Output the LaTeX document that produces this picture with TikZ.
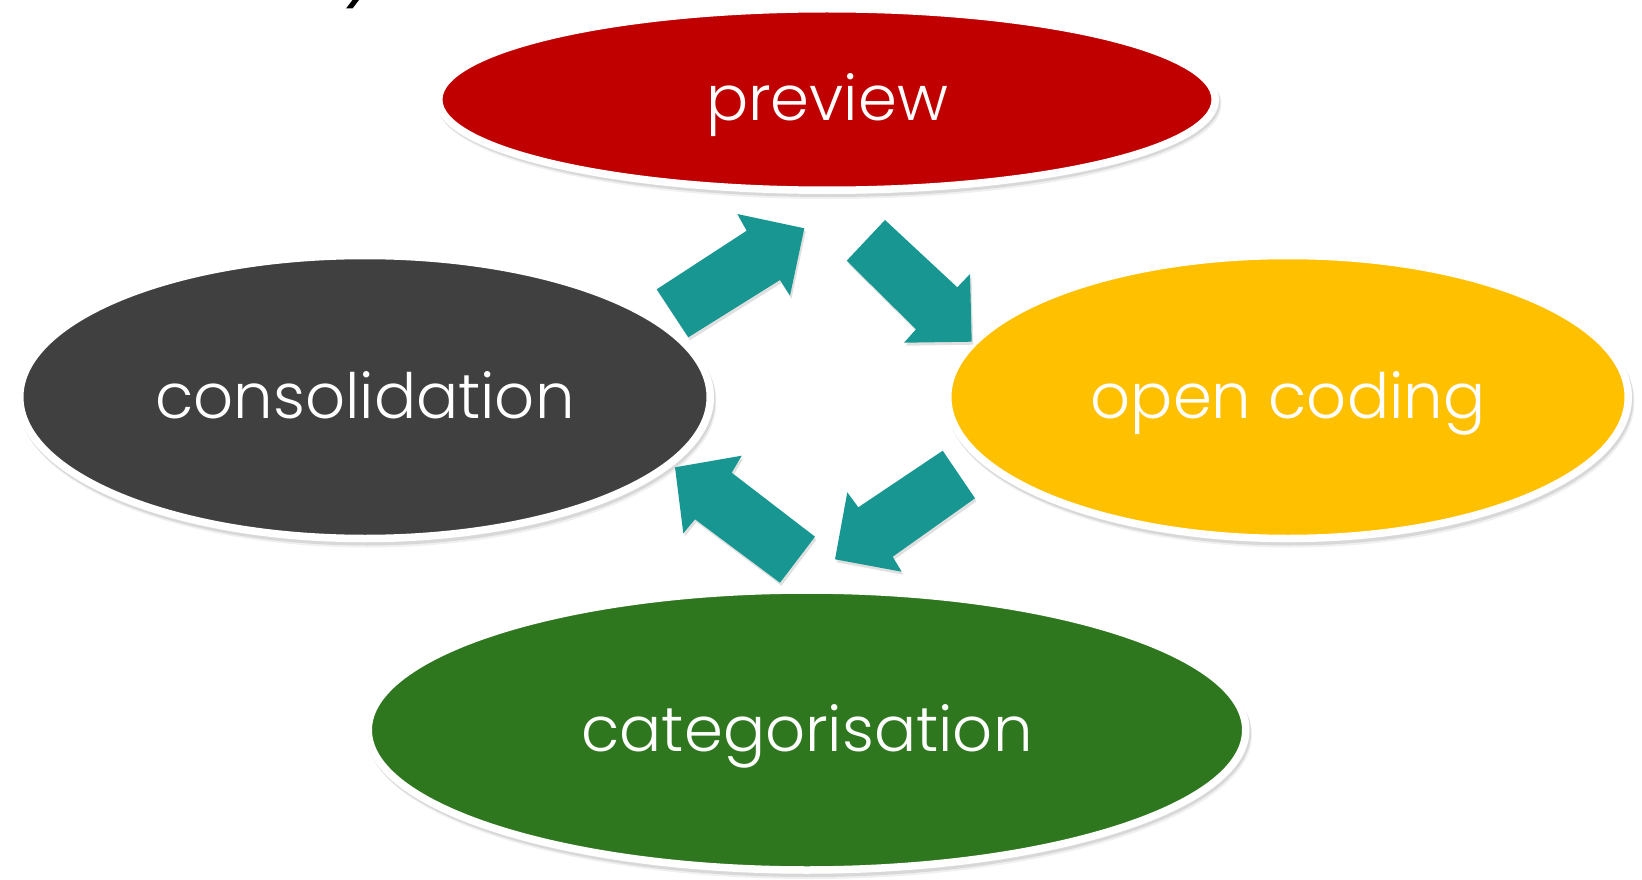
\documentclass[tikz,border=0pt]{standalone}
\usepackage{fontspec}
\setmainfont{Poppins Light}
\usetikzlibrary{shapes.geometric}
\definecolor{prevred}{RGB}{192,0,0}
\definecolor{consgray}{RGB}{64,64,64}
\definecolor{openyellow}{RGB}{255,192,0}
\definecolor{catgreen}{RGB}{47,119,31}
\definecolor{cycleteal}{RGB}{24,151,146}
\begin{document}
\begin{tikzpicture}[x=1pt,y=-1pt,
  stage/.style={ellipse, draw=white, line width=7.5pt, inner sep=0pt,
    text=white, font=\fontsize{62.5}{62.5}\selectfont,
    text height=49pt, text depth=6pt},
  shade1/.style={fill=black, opacity=.10},
  shade2/.style={fill=black, opacity=.06},
  turn/.style={fill=cycleteal},
  turnshadow/.style={fill=black, opacity=.12}
]
\useasboundingbox (0,0) rectangle (1642,880);

% soft shadows below the stage ellipses
\foreach \cx/\cy/\rx/\ry in {827/99.5/392/94.5, 365/397/349/145.5, 1288/397/344/145.5, 807/730/442.5/144}{
  \fill[shade1] (\cx+1.5,\cy+3) ellipse [x radius=\rx, y radius=\ry];
  \fill[shade2] (\cx+2.5,\cy+5) ellipse [x radius=\rx, y radius=\ry];
}

% the four stages of the cycle
\node[stage, fill=prevred, minimum width=776.5pt, minimum height=181.5pt] (prev) at (827,99.5) {preview};
\node[stage, fill=consgray, minimum width=690.5pt, minimum height=283pt] (cons) at (365,397) {consolidation};
\node[stage, fill=openyellow, minimum width=680.5pt, minimum height=283pt] (open) at (1288,397) {open coding};
\node[stage, fill=catgreen, minimum width=877.5pt, minimum height=280pt] (cat) at (807,730) {categorisation};

% block arrows between the stages
\begin{scope}[shift={(1.5,3)}]
  \fill[turnshadow] (656.7,289.3) -- (746.7,230.7) -- (737.3,214) -- (804.3,228.3) -- (790,295.7) -- (780,280) -- (688.3,337.3) -- cycle;
  \fill[turnshadow] (885,220) -- (957.3,287.3) -- (970,274) -- (971.7,341.7) -- (904,342.7) -- (916,329.3) -- (846.7,260.7) -- cycle;
  \fill[turnshadow] (942.7,450.7) -- (858.3,507.3) -- (847.3,492.3) -- (835,559.3) -- (901.7,571.7) -- (892.7,556.7) -- (975,498.3) -- cycle;
  \fill[turnshadow] (815,536.7) -- (731.7,472.7) -- (741.7,455.7) -- (675,467.3) -- (683.3,533.3) -- (695,519.3) -- (780,582.7) -- cycle;
\end{scope}
\fill[turn] (656.7,289.3) -- (746.7,230.7) -- (737.3,214) -- (804.3,228.3) -- (790,295.7) -- (780,280) -- (688.3,337.3) -- cycle;
\fill[turn] (885,220) -- (957.3,287.3) -- (970,274) -- (971.7,341.7) -- (904,342.7) -- (916,329.3) -- (846.7,260.7) -- cycle;
\fill[turn] (942.7,450.7) -- (858.3,507.3) -- (847.3,492.3) -- (835,559.3) -- (901.7,571.7) -- (892.7,556.7) -- (975,498.3) -- cycle;
\fill[turn] (815,536.7) -- (731.7,472.7) -- (741.7,455.7) -- (675,467.3) -- (683.3,533.3) -- (695,519.3) -- (780,582.7) -- cycle;

% stroke of a heading glyph cut by the top edge
\fill[black] (346,8.5) -- (352.5,8.5) -- (359,0) -- (352.5,0) -- cycle;
\end{tikzpicture}
\end{document}
